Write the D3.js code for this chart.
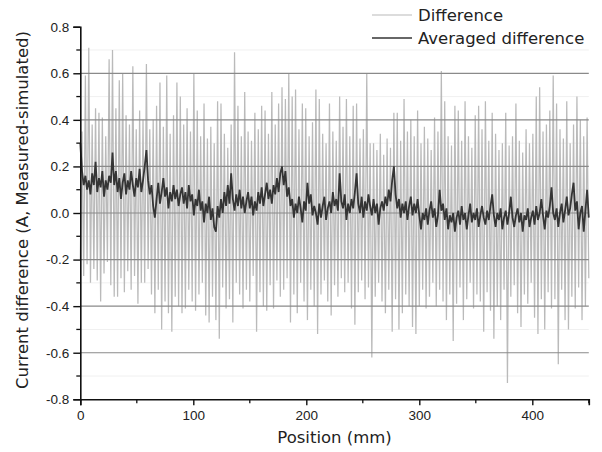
<!DOCTYPE html>
<html><head><meta charset="utf-8">
<script src="https://cdn.jsdelivr.net/npm/d3@7"></script>
<style>body{margin:0;background:#fff;}svg{display:block;font-family:"Liberation Sans",Arial,sans-serif;}</style>
</head><body>
<svg id="chart" width="602" height="452"></svg>
<script>
// Difference: peaks (at odd half-steps) and troughs (at even steps), 1.5 mm apart
const diffPeaks = [
0.35,0.59,0.71,0.38,0.45,0.43,0.41,0.33,0.66,0.70,
0.45,0.57,0.60,0.42,0.38,0.63,0.36,0.44,0.40,0.64,
0.36,0.40,0.46,0.56,0.37,0.59,0.34,0.42,0.56,0.50,
0.38,0.45,0.35,0.60,0.44,0.33,0.47,0.32,0.37,0.30,
0.48,0.47,0.34,0.28,0.38,0.69,0.46,0.33,0.52,0.35,
0.31,0.43,0.36,0.46,0.44,0.34,0.52,0.38,0.47,0.54,
0.49,0.60,0.50,0.53,0.36,0.47,0.45,0.33,0.39,0.53,
0.49,0.34,0.30,0.47,0.35,0.31,0.50,0.37,0.49,0.33,
0.46,0.47,0.32,0.36,0.60,0.30,0.30,0.27,0.34,0.25,
0.32,0.28,0.43,0.43,0.31,0.49,0.35,0.40,0.33,0.44,
0.30,0.37,0.32,0.27,0.41,0.35,0.61,0.48,0.33,0.29,
0.46,0.44,0.31,0.48,0.33,0.28,0.42,0.46,0.36,0.48,
0.31,0.43,0.34,0.27,0.30,0.43,0.29,0.33,0.47,0.31,
0.26,0.36,0.30,0.34,0.50,0.54,0.35,0.38,0.44,0.59,
0.47,0.36,0.32,0.48,0.30,0.38,0.50,0.40,0.33,0.41];
const diffTroughs = [
-0.20,-0.27,-0.22,-0.30,-0.24,-0.29,-0.38,-0.26,-0.21,-0.31,
-0.36,-0.36,-0.28,-0.34,-0.25,-0.33,-0.27,-0.39,-0.30,-0.30,
-0.24,-0.35,-0.43,-0.33,-0.50,-0.38,-0.43,-0.51,-0.36,-0.40,
-0.43,-0.41,-0.33,-0.38,-0.42,-0.35,-0.30,-0.44,-0.47,-0.36,
-0.46,-0.54,-0.32,-0.41,-0.37,-0.47,-0.30,-0.35,-0.41,-0.33,
-0.38,-0.27,-0.51,-0.34,-0.40,-0.42,-0.31,-0.41,-0.29,-0.36,
-0.33,-0.28,-0.47,-0.35,-0.43,-0.30,-0.38,-0.46,-0.33,-0.40,
-0.52,-0.35,-0.29,-0.38,-0.44,-0.31,-0.36,-0.28,-0.34,-0.30,
-0.41,-0.48,-0.34,-0.29,-0.37,-0.32,-0.62,-0.36,-0.30,-0.38,
-0.43,-0.33,-0.51,-0.37,-0.50,-0.43,-0.35,-0.40,-0.49,-0.52,
-0.40,-0.33,-0.41,-0.36,-0.30,-0.40,-0.33,-0.38,-0.46,-0.35,
-0.55,-0.39,-0.32,-0.46,-0.37,-0.30,-0.41,-0.35,-0.38,-0.51,
-0.34,-0.42,-0.54,-0.40,-0.46,-0.33,-0.73,-0.36,-0.31,-0.43,
-0.49,-0.35,-0.39,-0.30,-0.45,-0.52,-0.37,-0.50,-0.34,-0.41,
-0.37,-0.65,-0.33,-0.46,-0.50,-0.36,-0.41,-0.32,-0.46,-0.40,
-0.28];
// Averaged difference, 1.5 mm apart from 0 to 450 mm
const averaged = [
0.30,0.18,0.12,0.16,0.10,0.14,0.08,0.17,0.12,0.22,0.09,0.15,0.11,0.18,0.07,0.14,0.10,0.16,0.13,0.26,
0.12,0.18,0.09,0.15,0.06,0.13,0.17,0.08,0.14,0.10,0.18,0.12,0.07,0.15,0.11,0.19,0.09,0.14,0.20,0.27,
0.14,0.08,0.12,0.03,-0.02,0.06,0.13,0.04,0.09,0.15,0.07,0.11,0.02,0.09,0.05,0.12,0.06,0.10,0.03,0.08,
0.11,0.04,0.09,0.02,0.12,0.05,0.08,-0.01,0.06,0.03,0.10,0.01,0.05,-0.04,0.04,0.00,0.07,-0.03,0.02,-0.06,
-0.08,0.03,-0.02,0.06,0.00,0.09,0.03,0.12,0.04,0.17,0.06,0.01,0.08,0.03,0.10,0.02,0.07,0.00,0.05,0.09,
0.02,0.07,-0.01,0.05,0.01,0.09,0.04,0.11,0.03,0.08,0.13,0.06,0.10,0.04,0.12,0.08,0.15,0.09,0.17,0.20,
0.12,0.18,0.07,0.11,0.03,0.06,-0.02,0.04,0.00,0.07,0.02,-0.04,0.05,0.01,0.13,0.04,0.08,-0.01,0.03,0.00,
-0.05,0.04,-0.02,0.03,0.07,-0.03,0.02,0.05,0.00,0.09,0.03,0.06,0.01,0.17,0.05,0.02,0.08,-0.03,0.04,0.00,
0.06,0.02,0.09,0.17,0.04,0.00,0.07,-0.02,0.05,0.01,0.08,0.03,-0.01,0.06,0.00,0.04,-0.05,0.02,0.05,0.01,
0.07,0.03,0.10,0.05,0.14,0.20,0.08,0.02,0.06,-0.02,0.04,0.00,0.05,-0.03,0.03,0.07,-0.01,0.04,0.00,0.06,
-0.01,-0.07,0.00,-0.03,0.02,-0.05,0.01,0.05,-0.02,0.02,-0.06,-0.01,0.10,0.01,0.04,-0.03,0.02,-0.07,-0.01,-0.04,
0.00,-0.08,-0.02,0.01,-0.05,0.03,-0.03,0.00,-0.07,-0.01,0.04,-0.04,0.00,-0.03,0.02,-0.06,-0.01,0.03,-0.02,-0.05,
0.01,-0.03,0.03,0.08,-0.01,-0.06,0.00,-0.03,0.02,-0.07,-0.02,0.01,-0.05,0.00,0.07,-0.02,-0.06,-0.01,0.02,-0.04,
0.00,-0.08,-0.01,-0.03,0.02,-0.06,-0.02,0.01,-0.05,0.03,-0.03,0.00,0.06,-0.01,-0.07,0.01,-0.02,0.03,0.11,0.00,
-0.03,0.02,-0.06,0.00,0.04,-0.04,0.01,0.07,-0.01,0.02,0.08,0.13,0.01,0.05,-0.07,0.00,0.03,-0.08,0.01,0.10,
-0.02];
const xTicks = [0,100,200,300,400];
const xTickLabels = ["0","100","200","300","400"];
const yTicks = [-0.8,-0.6,-0.4,-0.2,0.0,0.2,0.4,0.6,0.8];
const yTickLabels = ["-0.8","-0.6","-0.4","-0.2","0.0","0.2","0.4","0.6","0.8"];
const gridValues = [-0.6,-0.4,-0.2,0.0,0.2,0.4,0.6];
const seriesNames = ["Difference","Averaged difference"];
const xDomain = [0,450];
const yDomain = [-0.8,0.8];

const svg = d3.select("#chart");
const x = d3.scaleLinear().domain(xDomain).range([80.3,588.8]);
const y = d3.scaleLinear().domain(yDomain).range([399.3,26.7]);
const titleFont = '"DejaVu Sans",Verdana,sans-serif';

// build Difference points by interleaving troughs and peaks
const diffStep = (xDomain[1]-xDomain[0]) / (diffTroughs.length-1);
const diffPts = [];
diffTroughs.forEach((v,k)=>{
  diffPts.push([k*diffStep, v]);
  if (k < diffPeaks.length) diffPts.push([k*diffStep + diffStep/2, diffPeaks[k]]);
});
const avgStep = (xDomain[1]-xDomain[0]) / (averaged.length-1);
const avgPts = averaged.map((v,i)=>[i*avgStep, v]);

// faint minor grid
const minorVals = d3.range(-7,8,2).map(d=>d/10);
svg.append("g").selectAll("line").data(minorVals).join("line")
  .attr("x1",x(0)).attr("x2",x(450)).attr("y1",d=>y(d)).attr("y2",d=>y(d))
  .attr("stroke","#f0f0f0").attr("stroke-width",1);

const line = d3.line().x(d=>x(d[0])).y(d=>y(d[1]));
svg.append("path").datum(diffPts).attr("d",line)
  .attr("fill","none").attr("stroke","#bababa").attr("stroke-width",1.25);

// major grid (on top, like the original)
svg.append("g").selectAll("line").data(gridValues).join("line")
  .attr("x1",x(0)).attr("x2",x(450)).attr("y1",d=>y(d)).attr("y2",d=>y(d))
  .attr("stroke","#8a8a8a").attr("stroke-width",1.2);

svg.append("path").datum(avgPts).attr("d",line)
  .attr("fill","none").attr("stroke","#353535").attr("stroke-width",1.8);

// axes
const yAxis = d3.axisLeft(y).tickValues(yTicks).tickFormat((d,i)=>yTickLabels[i]).tickSize(7).tickPadding(4);
const gy = svg.append("g").attr("transform",`translate(${x(0)},0)`).call(yAxis);
const xAxis = d3.axisBottom(x).tickValues(xTicks).tickFormat((d,i)=>xTickLabels[i]).tickSize(6).tickPadding(5);
const gx = svg.append("g").attr("transform",`translate(0,${y(-0.8)})`).call(xAxis);
[gx,gy].forEach(g=>{
  g.select(".domain").attr("stroke","#111").attr("stroke-width",1.6);
  g.selectAll(".tick line").attr("stroke","#111").attr("stroke-width",1.4);
  g.selectAll(".tick text").attr("fill","#222").style("font-size","13.5px").style("font-family",'"Liberation Sans",Arial,sans-serif');
});
// minor ticks
const yMinor = d3.range(-7,8,2).map(d=>d/10);
svg.append("g").selectAll("line").data(yMinor).join("line")
  .attr("x1",x(0)-4).attr("x2",x(0)).attr("y1",d=>y(d)).attr("y2",d=>y(d))
  .attr("stroke","#111").attr("stroke-width",1.3);
const xMinor = [50,150,250,350,450];
svg.append("g").selectAll("line").data(xMinor).join("line")
  .attr("x1",d=>x(d)).attr("x2",d=>x(d)).attr("y1",y(-0.8)).attr("y2",y(-0.8)+4)
  .attr("stroke","#111").attr("stroke-width",1.3);

// axis titles
svg.append("text").attr("x",(x(0)+x(450))/2).attr("y",443).attr("text-anchor","middle")
  .style("font-size","16.5px").style("font-family",titleFont).attr("fill","#222").text("Position (mm)");
svg.append("text").attr("transform",`translate(28,210) rotate(-90)`)
  .attr("text-anchor","middle").style("font-size","16.5px").style("font-family",titleFont).attr("fill","#222")
  .text("Current difference (A, Measured-simulated)");

// legend
const legendColors = ["#bababa","#353535"];
const legendWidths = [1.2,1.5];
const lg = svg.append("g");
seriesNames.forEach((name,i)=>{
  const yy = 15 + i*23;
  lg.append("line").attr("x1",372).attr("x2",412).attr("y1",yy).attr("y2",yy)
    .attr("stroke",legendColors[i]).attr("stroke-width",legendWidths[i]);
  lg.append("text").attr("x",418).attr("y",yy+5.5).style("font-size","16.5px").style("font-family",titleFont)
    .attr("fill","#222").text(name);
});
</script>
</body></html>
